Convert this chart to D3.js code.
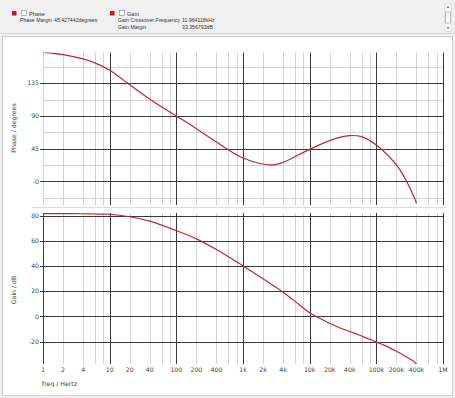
<!DOCTYPE html>
<html>
<head>
<meta charset="utf-8">
<script src="https://cdn.jsdelivr.net/npm/d3@7/dist/d3.min.js"></script>
<style>
  body { margin: 0; background: #f0f0f0; }
  svg text { font-family: "DejaVu Sans", sans-serif; }
  svg text.legend { font-family: "Liberation Sans", Arial, sans-serif; }
</style>
</head>
<body>
<svg id="bode" width="455" height="398"></svg>
<script>
// frequency points (Hz)
const freqs = [1, 2, 4, 6, 10, 20, 40, 100, 200, 400, 1000, 2000, 3000, 4000, 7000, 10000,
    20000, 28000, 40000, 60000, 80000, 100000, 130000, 200000, 260000, 330000, 400000];
const phaseDeg = [177.6, 174.5, 168.5, 163, 153, 133, 113, 90, 72.5, 54, 32, 23.5, 23, 26, 37, 44,
    56, 60.5, 63, 61.5, 56, 50, 41, 22.5, 6.5, -12, -30];
const gainDb = [81.5, 81.5, 81.4, 81.2, 81, 79, 75.5, 68, 61.5, 53, 40, 29.8, 23.6, 19.2, 9.2, 2.8,
    -5.5, -9, -12, -15.6, -18.2, -20.4, -22.8, -27.7, -31, -34.3, -37.7];

const freqTicks = [1, 2, 4, 10, 20, 40, 100, 200, 400, 1e3, 2e3, 4e3, 1e4, 2e4, 4e4, 1e5, 2e5, 4e5, 1e6];
const freqTickLabels = ["1", "2", "4", "10", "20", "40", "100", "200", "400", "1k", "2k", "4k",
    "10k", "20k", "40k", "100k", "200k", "400k", "1M"];
const phaseTicks = [135, 90, 45, 0];
const phaseTickLabels = ["135", "90", "45", "-0"];
const phaseMinor = [157.5, 112.5, 67.5, 22.5, -22.5];
const gainTicks = [80, 60, 40, 20, 0, -20];

const svg = d3.select("#bode");
const red = "#c3262e";

// top bar with legend
svg.append("rect").attr("x", 0).attr("y", 0).attr("width", 455).attr("height", 34).attr("fill", "#f0f0f0");
svg.append("line").attr("x1", 0).attr("x2", 455).attr("y1", 33.5).attr("y2", 33.5).attr("stroke", "#d8d8d8");

function legendEntry(x, label) {
    svg.append("rect").attr("x", x).attr("y", 11).attr("width", 4.5).attr("height", 4.5).attr("fill", "#d4111f");
    svg.append("rect").attr("x", x + 9.5).attr("y", 10.5).attr("width", 5).attr("height", 5)
        .attr("fill", "#fff").attr("stroke", "#999").attr("stroke-width", 0.7);
    svg.append("text").attr("class", "legend").attr("x", x + 17).attr("y", 15.5)
        .attr("font-size", 5.6).attr("fill", "#333").text(label);
}
legendEntry(12, "Phase");
legendEntry(110, "Gain");

const info = [
    [20, 21.8, "Phase Margin"], [54, 21.8, "45.427442degrees"],
    [118, 21.8, "Gain Crossover Frequency"], [182, 21.8, "11.964118kHz"],
    [118, 29, "Gain Margin"], [182, 29, "33.356793dB"]
];
svg.selectAll("text.info").data(info).join("text").attr("class", "legend info")
    .attr("x", d => d[0]).attr("y", d => d[1]).attr("font-size", 5.2).attr("fill", "#333")
    .text(d => d[2]);

// little scrollbar at the right
svg.append("rect").attr("x", 444.5).attr("y", 3.5).attr("width", 7).attr("height", 28)
    .attr("fill", "#f4f4f4").attr("stroke", "#e0e0e0");
svg.append("rect").attr("x", 445.5).attr("y", 12).attr("width", 5).attr("height", 11)
    .attr("fill", "#f8f8f8").attr("stroke", "#a8a8a8").attr("stroke-width", 0.7);
svg.append("path").attr("d", "M446.5,8 L448,6 L449.5,8 Z").attr("fill", "#777");
svg.append("path").attr("d", "M446.5,27 L448,29 L449.5,27 Z").attr("fill", "#777");

// white chart panel
svg.append("rect").attr("x", 2.5).attr("y", 36.5).attr("width", 450).attr("height", 359)
    .attr("fill", "#fff").attr("stroke", "#cfcfcf");

const x = d3.scaleLog().domain([1, 1e6]).range([43, 443]);
const yPhase = d3.scaleLinear().domain([-32.6, 177.3]).range([205, 52.5]);
const yGain = d3.scaleLinear().domain([-37, 82]).range([363, 213]);

// minor frequencies: 2,4,6,8 of each decade
let minorFreqs = [];
for (let d = 0; d < 6; d++) {
    for (let m of [2, 4, 6, 8]) minorFreqs.push(m * Math.pow(10, d));
}
const majorFreqs = [1, 10, 100, 1e3, 1e4, 1e5, 1e6];

function drawPanel(y, yTop, yBot, major, majorLabels, minor, leftDark, clipId, values) {
    const g = svg.append("g");
    // minor vertical
    g.selectAll("line.vmin").data(minorFreqs).join("line")
        .attr("x1", d => Math.round(x(d)) + 0.5).attr("x2", d => Math.round(x(d)) + 0.5)
        .attr("y1", yTop).attr("y2", yBot).attr("stroke", "#d4d4d4");
    // minor horizontal
    g.selectAll("line.hmin").data(minor).join("line")
        .attr("x1", 43).attr("x2", 443)
        .attr("y1", d => Math.round(y(d)) + 0.5).attr("y2", d => Math.round(y(d)) + 0.5)
        .attr("stroke", "#d4d4d4");
    // major vertical
    g.selectAll("line.vmaj").data(majorFreqs).join("line")
        .attr("x1", d => Math.round(x(d)) + 0.5).attr("x2", d => Math.round(x(d)) + 0.5)
        .attr("y1", yTop).attr("y2", yBot)
        .attr("stroke", d => (d === 1 && !leftDark) ? "#d4d4d4" : "#3a3a3a");
    // major horizontal
    g.selectAll("line.hmaj").data(major).join("line")
        .attr("x1", 40).attr("x2", 443)
        .attr("y1", d => Math.round(y(d)) + 0.5).attr("y2", d => Math.round(y(d)) + 0.5)
        .attr("stroke", "#3a3a3a");
    g.selectAll("text.ylab").data(major).join("text")
        .attr("x", 39).attr("y", d => y(d) + 2.2)
        .attr("text-anchor", "end").attr("font-size", 6.2).attr("fill", "#444")
        .text((d, i) => majorLabels[i]);

    svg.append("clipPath").attr("id", clipId).append("rect")
        .attr("x", 43).attr("y", yTop).attr("width", 400).attr("height", yBot - yTop);

    const line = d3.line()
        .x((d, i) => x(freqs[i]))
        .y(d => y(d))
        .curve(d3.curveCatmullRom.alpha(0.5));
    svg.append("path").datum(values)
        .attr("clip-path", "url(#" + clipId + ")")
        .attr("d", line)
        .attr("fill", "none").attr("stroke", red).attr("stroke-width", 1.2);
}

drawPanel(yPhase, 52.5, 205, phaseTicks, phaseTickLabels, phaseMinor, false, "clipPhase", phaseDeg);

// separator between the two panels
svg.append("line").attr("x1", 32).attr("x2", 446).attr("y1", 207.5).attr("y2", 207.5).attr("stroke", "#dcdcdc");

drawPanel(yGain, 213, 364, gainTicks, gainTicks.map(String), [], true, "clipGain", gainDb);

// frequency labels
svg.selectAll("text.xlab").data(freqTicks).join("text").attr("class", "xlab")
    .attr("x", d => x(d)).attr("y", 371.5)
    .attr("text-anchor", "middle").attr("font-size", 6.2).attr("fill", "#444")
    .text((d, i) => freqTickLabels[i]);

svg.append("text").attr("x", 42).attr("y", 386).attr("font-size", 6.2).attr("fill", "#444").text("freq / Hertz");
svg.append("text").attr("transform", "translate(16,128) rotate(-90)")
    .attr("text-anchor", "middle").attr("font-size", 6.2).attr("fill", "#444").text("Phase / degrees");
svg.append("text").attr("transform", "translate(16,290) rotate(-90)")
    .attr("text-anchor", "middle").attr("font-size", 6.2).attr("fill", "#444").text("Gain / dB");
</script>
</body>
</html>
